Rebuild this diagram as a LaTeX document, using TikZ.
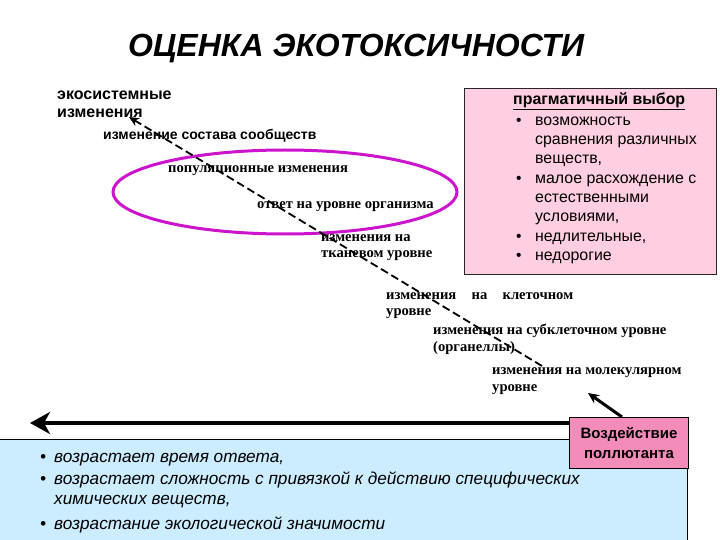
\documentclass[tikz,border=0pt]{standalone}
\usepackage{fontspec}
\setmainfont{Liberation Serif}
\newfontfamily\arial{Liberation Sans}
\usetikzlibrary{arrows.meta}
\definecolor{pinkbg}{RGB}{255,206,224}
\definecolor{pinkbox}{RGB}{244,140,186}
\definecolor{bluebg}{RGB}{204,236,255}
\definecolor{ellcol}{RGB}{204,20,204}
\begin{document}
\begin{tikzpicture}[x=1pt,y=-1pt,
  lbl/.style={inner sep=0pt, anchor=base west},
  titlefont/.style={lbl, font=\arial\bfseries\itshape\fontsize{32}{36}\selectfont},
  sansbig/.style={lbl, font=\arial\bfseries\fontsize{16}{18}\selectfont},
  sansmid/.style={lbl, font=\arial\bfseries\fontsize{14}{16}\selectfont},
  serifb/.style={lbl, font=\bfseries\fontsize{14.6}{16}\selectfont},
  pragtxt/.style={lbl, font=\arial\fontsize{15.9}{19}\selectfont},
  praghead/.style={lbl, font=\arial\bfseries\fontsize{15.9}{19}\selectfont},
  bluetxt/.style={lbl, font=\arial\itshape\fontsize{17.2}{20}\selectfont},
  dotb/.style={lbl, font=\arial\fontsize{15.5}{19}\selectfont},
  dashline/.style={line width=1.8pt, dash pattern=on 8pt off 4pt, -{Stealth[length=10pt,width=9pt]}},
  bigarrow/.style={line width=4pt, -{Stealth[length=20pt,width=22pt,inset=6pt]}},
  smallarrow/.style={line width=3pt, -{Stealth[length=11pt,width=10pt]}}
]
\useasboundingbox (0,0) rectangle (720,540);

% title
\node[titlefont] (title) at (128,57) {ОЦЕНКА ЭКОТОКСИЧНОСТИ};

% pragmatic box
\node[draw=black!85, line width=1pt, fill=pinkbg, inner sep=0pt, minimum width=252pt, minimum height=186pt, anchor=north west] (prag) at (464,88) {};
\node[praghead] (ph) at (513,105) {\underline{прагматичный выбор}};
\node[dotb] (b1) at (516,126) {•};
\node[pragtxt] (p1) at (535,126) {возможность};
\node[pragtxt] (p2) at (535,145) {сравнения различных};
\node[pragtxt] (p3) at (535,164) {веществ,};
\node[dotb] (b2) at (516,184) {•};
\node[pragtxt] (p4) at (535,184) {малое расхождение с};
\node[pragtxt] (p5) at (535,203) {естественными};
\node[pragtxt] (p6) at (535,222) {условиями,};
\node[dotb] (b3) at (516,241) {•};
\node[pragtxt] (p7) at (535,241) {недлительные,};
\node[dotb] (b4) at (516,260) {•};
\node[pragtxt] (p8) at (535,260) {недорогие};

% ellipse
\draw[ellcol, line width=3pt] (285,192) ellipse [x radius=172, y radius=42];

% level labels
\node[sansbig] (eco1) at (57,100) {экосистемные};
\node[sansbig] (eco2) at (57,118) {изменения};
\node[sansmid] (comm) at (103,140) {изменение состава сообществ};
\node[serifb] (pop) at (168,173) {популяционные изменения};
\node[serifb] (org) at (257,208) {ответ на уровне организма};
\node[serifb] (tis1) at (321,241) {изменения на};
\node[serifb] (tis2) at (321,257) {тканевом уровне};
\node[serifb] (cel1) at (386,299) {\hbox to 187pt{изменения\hfill на\hfill клеточном}};
\node[serifb] (cel2) at (386,315) {уровне};
\node[serifb] (sub1) at (433,334) {изменения на субклеточном уровне};
\node[serifb] (sub2) at (433,351) {(органеллы)};
\node[serifb] (mol1) at (492,374) {изменения на молекулярном};
\node[serifb] (mol2) at (492,391) {уровне};

% dashed trend arrow
\coordinate (dstart) at (542,366);
\coordinate (dend) at (129,117);
\draw[dashline] (dstart) -- (dend);

% blue box
\node[draw=black, line width=1pt, fill=bluebg, inner sep=0pt, minimum width=692pt, minimum height=110pt, anchor=north west] (blue) at (-5,439) {};
\node[bluetxt] (bb1) at (40,462) {•};
\node[bluetxt] (bt1) at (54,462) {возрастает время ответа,};
\node[bluetxt] (bb2) at (40,484) {•};
\node[bluetxt] (bt2) at (54,484) {возрастает сложность с привязкой к действию специфических};
\node[bluetxt] (bt3) at (54,504) {химических веществ,};
\node[bluetxt] (bb3) at (40,529) {•};
\node[bluetxt] (bt4) at (54,529) {возрастание экологической значимости};

% pollutant box
\node[draw=black, line width=1pt, fill=pinkbox, inner sep=0pt, minimum width=119pt, minimum height=51pt, anchor=north west,
  align=center, font=\arial\bfseries\fontsize{15}{20}\selectfont] (poll) at (569,417) {Воздействие\\поллютанта};

% arrows
\coordinate (hstart) at (569,423);
\coordinate (hend) at (30,423);
\draw[bigarrow] (hstart) -- (hend);
\coordinate (ustart) at (622,417);
\coordinate (uend) at (588,393);
\draw[smallarrow] (ustart) -- (uend);
\end{tikzpicture}
\end{document}
